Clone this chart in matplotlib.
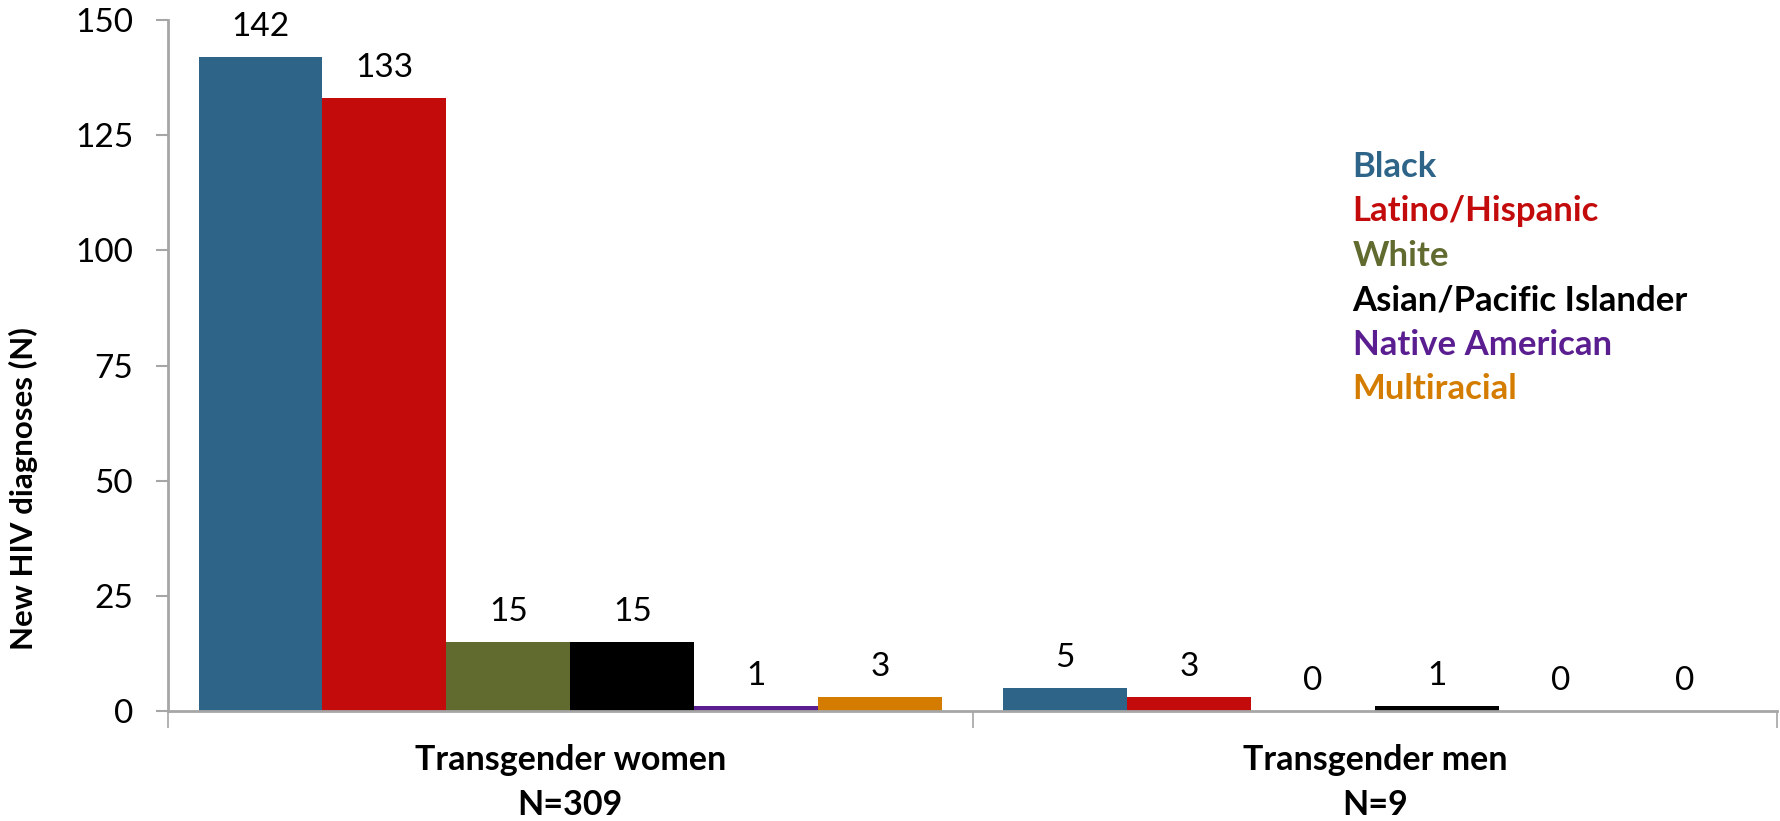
import matplotlib.pyplot as plt
import numpy as np

plt.rcParams['font.family'] = ['Lato', 'DejaVu Sans']

group_names = ['Transgender women', 'Transgender men']
group_n = ['N=309', 'N=9']
races = ['Black', 'Latino/Hispanic', 'White', 'Asian/Pacific Islander',
         'Native American', 'Multiracial']
colors = ['#2F6489', '#C30B0B', '#616B2F', '#000000', '#5B1E91', '#D47C00']
women = [142, 133, 15, 15, 1, 3]
men = [5, 3, 0, 1, 0, 0]
yticks = [0, 25, 50, 75, 100, 125, 150]

fig = plt.figure(figsize=(17.81, 8.21), dpi=100)
ax = fig.add_axes([0.0943, 0.134, 0.9037, 0.8416])

x = np.arange(len(group_names))
w = 0.154
for i, race in enumerate(races):
    vals = [women[i], men[i]]
    pos = x + (i - 2.5) * w
    ax.bar(pos, vals, w, color=colors[i])
    for p, v in zip(pos, vals):
        ax.annotate(str(v), (p, v), xytext=(0, 11), textcoords='offset points',
                    ha='center', va='bottom', fontsize=24)

ax.set_xlim(-0.5, 1.5)
ax.set_ylim(0, 150)
ax.set_yticks(yticks)
ax.tick_params(axis='y', labelsize=24, color='#A6A6A6', length=9, width=1.5, pad=16)
ax.set_xticks([-0.5, 0.5, 1.5])
ax.set_xticklabels([])
ax.tick_params(axis='x', color='#A6A6A6', length=12, width=1.2)

# category labels, two lines each
for g, name, n in zip(x, group_names, group_n):
    ax.text(g, -0.0854, name, transform=ax.get_xaxis_transform(), ha='center',
            va='baseline', fontsize=24.5, fontweight='bold')
    ax.text(g, -0.1505, n, transform=ax.get_xaxis_transform(), ha='center',
            va='baseline', fontsize=24.5, fontweight='bold')

for s in ['top', 'right']:
    ax.spines[s].set_visible(False)
for s in ['left', 'bottom']:
    ax.spines[s].set_color('#A6A6A6')
    ax.spines[s].set_linewidth(2)

fig.text(0.0132, 0.405, 'New HIV diagnoses (N)', rotation=90, ha='center',
         va='center', fontsize=22.5, fontweight='bold')

# color-coded legend text
for i, race in enumerate(races):
    ax.text(0.736, 0.773 - i * 0.0643, race, transform=ax.transAxes, color=colors[i],
            fontsize=25, fontweight='bold', va='baseline', ha='left')

fig.savefig('out.png', dpi=100)
